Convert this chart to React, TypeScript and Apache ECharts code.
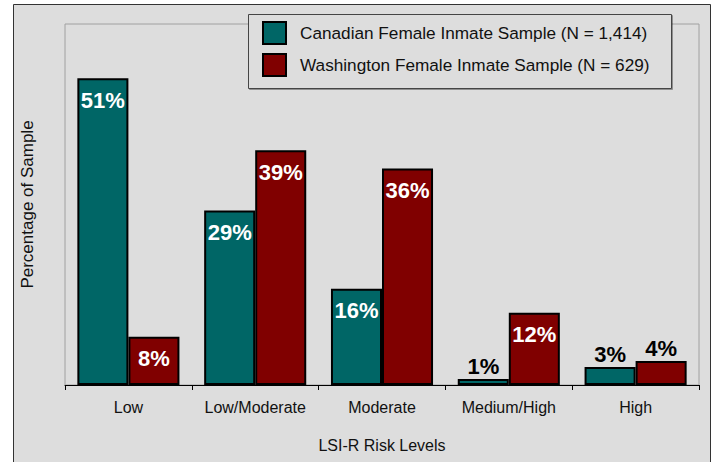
import React, { useEffect, useRef } from "react";
import * as echarts from "echarts";

const categories = ["Low", "Low/Moderate", "Moderate", "Medium/High", "High"];
const canadian = [51, 29, 16, 1, 3];
const washington = [8, 39, 36, 12, 4];
const seriesNames = [
  "Canadian Female Inmate Sample (N = 1,414)",
  "Washington Female Inmate Sample (N = 629)",
];
const outsideThreshold = 5;

const FONT = "'Liberation Sans', Arial, sans-serif";

function makeData(values: number[]) {
  return values.map((v) => {
    const outside = v < outsideThreshold;
    return {
      value: v,
      label: outside
        ? { position: "top", distance: 1, color: "#000" }
        : { position: "insideTop", distance: 11, color: "#fff" },
    };
  });
}

export default function App() {
  const ref = useRef<HTMLDivElement>(null);
  useEffect(() => {
    if (!ref.current) return;
    const chart = echarts.init(ref.current, undefined, { renderer: "svg" });
    const label = {
      show: true,
      formatter: "{c}%",
      fontFamily: FONT,
      fontWeight: "bold",
      fontSize: 22,
    };
    chart.setOption({
      animation: false,
      backgroundColor: "#ffffff",
      textStyle: { fontFamily: FONT },
      graphic: [
        {
          type: "rect",
          z: -10,
          silent: true,
          shape: { x: 13.5, y: 4.5, width: 697, height: 480 },
          style: { fill: "#dddddd", stroke: "#333333", lineWidth: 1 },
        },
        {
          type: "rect",
          z: 10,
          silent: true,
          shape: { x: 248.5, y: 14.5, width: 423, height: 74 },
          style: {
            fill: "#dddddd",
            stroke: "#444444",
            lineWidth: 1,
            shadowColor: "rgba(0,0,0,0.35)",
            shadowOffsetX: 1,
            shadowOffsetY: 1,
            shadowBlur: 0,
          },
        },
      ],
      legend: {
        orient: "vertical",
        left: 262,
        top: 21,
        z: 20,
        itemWidth: 23,
        itemHeight: 22,
        itemGap: 8,
        icon: "rect",
        padding: 0,
        textStyle: {
          fontFamily: FONT,
          fontSize: 17.2,
          color: "#111",
          padding: [0, 0, 0, 9],
        },
        data: seriesNames,
      },
      grid: {
        left: 65,
        right: 16,
        top: 24,
        bottom: 77,
        show: true,
        borderColor: "#a0a0a0",
        borderWidth: 1,
        backgroundColor: "transparent",
      },
      xAxis: {
        type: "category",
        data: categories,
        name: "LSI-R Risk Levels",
        nameLocation: "middle",
        nameGap: 52,
        nameTextStyle: { fontFamily: FONT, fontSize: 16, color: "#111" },
        axisLine: { show: true, lineStyle: { color: "#000", width: 1 } },
        axisTick: { show: true, length: 5, interval: 0, lineStyle: { color: "#000" } },
        axisLabel: {
          interval: 0,
          fontFamily: FONT,
          fontSize: 16,
          color: "#111",
          margin: 14,
        },
      },
      yAxis: {
        type: "value",
        min: 0,
        max: 60,
        name: "Percentage of Sample",
        nameLocation: "middle",
        nameGap: 29,
        nameTextStyle: { fontFamily: FONT, fontSize: 17, color: "#111" },
        axisLine: { show: false },
        axisTick: { show: false },
        axisLabel: { show: false },
        splitLine: { show: false },
      },
      series: [
        {
          name: seriesNames[0],
          type: "bar",
          data: makeData(canadian),
          barGap: "0%",
          barCategoryGap: "19.5%",
          itemStyle: { color: "#006666", borderColor: "#000", borderWidth: 2 },
          label,
        },
        {
          name: seriesNames[1],
          type: "bar",
          data: makeData(washington),
          barGap: "0%",
          barCategoryGap: "19.5%",
          itemStyle: { color: "#800000", borderColor: "#000", borderWidth: 2 },
          label,
        },
      ],
    });
    return () => chart.dispose();
  }, []);
  return (
    <div
      ref={ref}
      style={{ position: "fixed", left: 0, top: 0, width: 715, height: 462 }}
    />
  );
}
